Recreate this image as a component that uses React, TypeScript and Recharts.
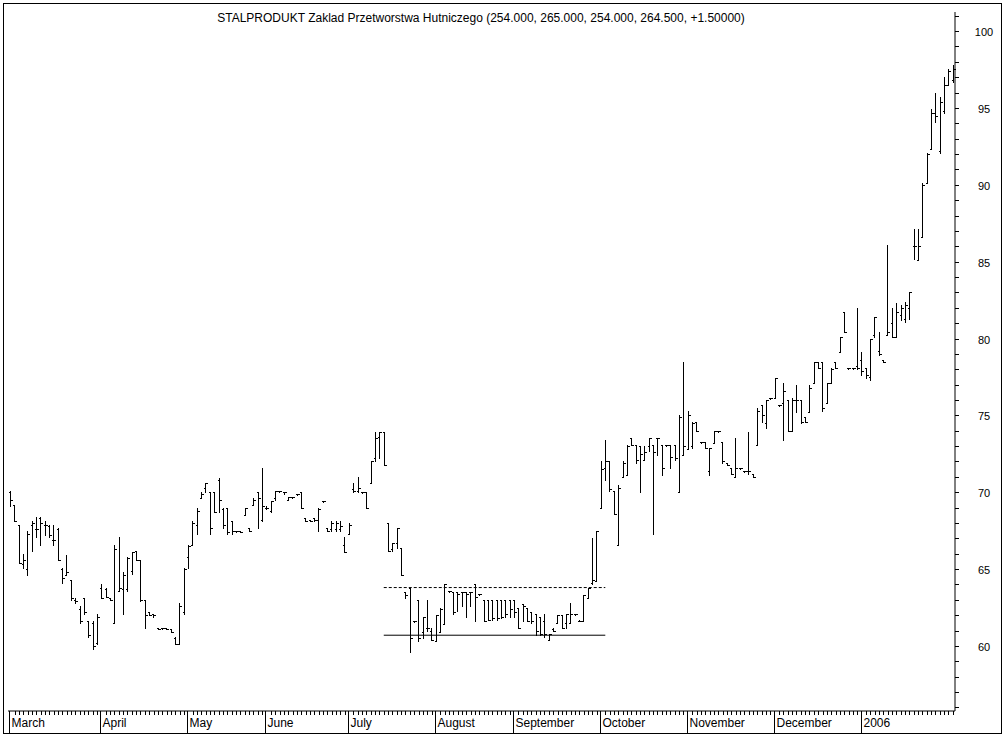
import React from "react";
import { ComposedChart, Bar, XAxis, YAxis, ReferenceLine } from "recharts";

// each bar: [open, high, low, close]
type OHLC = [number, number, number, number];

const mar05: OHLC[] = [
  [70.0, 70.1, 69.1, 69.5], [69.2, 69.2, 68.1, 68.1], [67.9, 67.9, 65.4, 65.4], [65.3, 66.0, 65.1, 65.6],
  [65.0, 67.5, 64.6, 67.3], [67.9, 68.1, 66.2, 68.0], [67.6, 68.4, 67.1, 67.6], [68.3, 68.4, 66.6, 68.0],
  [67.9, 68.1, 67.2, 67.9], [67.8, 67.9, 67.1, 67.2], [66.9, 67.9, 66.6, 66.9], [67.6, 67.7, 65.6, 65.6],
  [65.0, 65.1, 64.1, 64.4], [64.6, 65.9, 64.6, 64.8], [64.3, 64.3, 63.0, 63.1], [63.0, 63.1, 62.8, 62.9],
  [62.4, 62.6, 61.5, 61.6], [63.1, 63.1, 62.1, 62.2], [61.6, 61.6, 60.6, 60.7], [61.5, 61.6, 59.8, 60.0],
  [60.2, 62.1, 60.1, 61.9],
];
const apr05: OHLC[] = [
  [63.8, 64.0, 63.1, 63.1], [63.7, 63.8, 63.2, 63.2], [63.1, 63.1, 63.0, 63.0], [61.5, 66.6, 61.5, 66.3],
  [63.6, 67.1, 63.6, 63.8], [63.7, 64.8, 62.1, 64.6], [63.7, 65.8, 63.6, 65.7], [64.9, 66.1, 64.7, 66.1],
  [66.2, 66.2, 65.6, 65.6], [65.6, 65.6, 62.9, 63.0], [63.0, 63.0, 61.2, 62.0], [62.2, 62.2, 62.0, 62.0],
  [62.1, 62.1, 61.9, 62.0], [61.2, 61.2, 61.1, 61.1], [61.2, 61.2, 61.1, 61.2], [61.2, 61.2, 61.1, 61.1],
  [61.1, 61.1, 60.9, 60.9], [60.5, 60.6, 60.1, 60.1], [60.1, 62.8, 60.1, 62.6], [62.2, 65.1, 62.1, 65.0],
];
const may05: OHLC[] = [
  [65.8, 66.6, 65.1, 66.5], [66.6, 68.1, 66.6, 68.0], [67.9, 69.0, 67.3, 68.8], [69.6, 70.0, 69.6, 69.9],
  [70.3, 70.6, 70.0, 70.6], [70.0, 70.0, 67.3, 67.7], [70.0, 70.0, 68.7, 68.7], [70.8, 70.9, 68.7, 69.5],
  [68.9, 69.0, 67.7, 67.9], [69.0, 69.0, 67.3, 67.4], [68.1, 68.1, 67.3, 67.5], [67.5, 67.5, 67.5, 67.5],
  [67.5, 67.5, 67.4, 67.4], [68.5, 69.0, 68.5, 69.0], [67.7, 67.7, 67.5, 67.5], [69.2, 69.6, 69.2, 69.5],
  [70.0, 70.0, 67.7, 69.6], [68.2, 71.6, 68.1, 69.1],
];
const jun05: OHLC[] = [
  [69.0, 69.1, 68.9, 69.0], [68.8, 69.4, 68.7, 69.4], [69.6, 70.1, 69.5, 70.1], [70.1, 70.1, 70.1, 70.1],
  [70.0, 70.0, 69.9, 70.0], [69.5, 69.7, 69.5, 69.7], [69.7, 69.7, 69.6, 69.7], [69.9, 69.9, 69.8, 69.9],
  [70.0, 70.0, 69.0, 69.0], [68.3, 68.3, 68.1, 68.1], [68.2, 68.2, 68.1, 68.1], [68.3, 68.3, 68.1, 68.2],
  [68.2, 69.0, 67.5, 68.9], [69.4, 69.4, 69.4, 69.4], [67.7, 67.7, 67.5, 67.5], [67.6, 68.1, 67.5, 68.0],
  [67.6, 68.1, 67.5, 68.0], [67.6, 68.1, 67.5, 67.8], [66.6, 67.1, 66.1, 66.1],
];
const jul05: OHLC[] = [
  [67.3, 68.0, 67.3, 67.9], [70.2, 70.6, 70.0, 70.1], [70.1, 71.0, 70.0, 70.3], [70.0, 70.0, 70.0, 70.0],
  [70.0, 70.0, 69.0, 69.0], [70.6, 72.0, 70.6, 72.0], [72.2, 73.9, 72.0, 73.5], [73.6, 73.9, 72.2, 73.9],
  [73.9, 73.9, 71.8, 71.8], [68.0, 68.0, 66.2, 66.2], [66.3, 66.7, 66.2, 66.7], [66.7, 67.7, 66.4, 67.7],
  [66.4, 66.4, 64.6, 64.6], [63.5, 63.5, 63.1, 63.3], [63.8, 63.8, 59.6, 60.5], [61.6, 61.6, 61.6, 61.6],
  [63.0, 63.0, 60.3, 60.5], [60.9, 61.9, 60.5, 61.9], [61.2, 63.0, 61.0, 61.2], [61.0, 61.2, 60.4, 60.4],
];
const aug05: OHLC[] = [
  [60.3, 62.0, 60.3, 62.0], [60.9, 62.5, 60.9, 62.4], [61.4, 64.0, 61.4, 64.0], [63.6, 63.6, 63.6, 63.6],
  [63.5, 63.5, 62.1, 62.2], [63.5, 63.5, 62.3, 63.4], [63.5, 63.5, 62.6, 63.5], [63.5, 63.5, 61.9, 63.4],
  [63.5, 63.5, 62.6, 63.5], [64.0, 64.0, 61.6, 63.2], [63.4, 63.4, 63.4, 63.4], [63.0, 63.0, 61.6, 61.6],
  [63.0, 63.0, 61.7, 61.7], [63.0, 63.0, 61.7, 61.8], [63.0, 63.0, 61.7, 61.8], [63.0, 63.0, 61.8, 61.9],
  [63.0, 63.0, 61.9, 62.1], [63.0, 63.0, 61.9, 62.4],
];
const sep05: OHLC[] = [
  [63.0, 63.0, 61.9, 62.2], [62.5, 62.5, 61.2, 61.2], [62.7, 62.7, 61.6, 62.6], [62.5, 62.5, 61.6, 61.6],
  [62.2, 62.2, 61.5, 61.6], [62.1, 62.1, 60.7, 61.0], [61.9, 61.9, 60.7, 60.8], [61.6, 62.1, 60.6, 60.8],
  [60.4, 60.8, 60.4, 60.8], [61.1, 61.2, 61.0, 61.0], [61.5, 62.0, 61.5, 62.0], [62.0, 62.0, 61.2, 61.2],
  [61.5, 62.1, 61.2, 62.1], [61.5, 62.8, 61.5, 62.1], [62.1, 62.1, 62.1, 62.1], [61.6, 61.7, 61.6, 61.6],
  [61.6, 63.3, 61.6, 63.3], [63.1, 63.8, 63.1, 63.8], [64.1, 67.0, 64.0, 64.3], [64.2, 67.5, 64.2, 67.5],
];
const oct05: OHLC[] = [
  [69.0, 72.0, 69.0, 71.5], [71.6, 73.4, 70.8, 72.0], [72.0, 72.0, 70.1, 70.2], [70.1, 70.1, 68.6, 68.6],
  [66.6, 70.5, 66.6, 70.3], [71.0, 72.0, 71.0, 71.9], [71.1, 73.1, 71.1, 73.0], [73.5, 73.5, 73.1, 73.1],
  [73.1, 73.1, 71.9, 72.1], [73.0, 73.0, 70.0, 72.5], [72.1, 73.0, 72.1, 72.6], [73.0, 73.5, 72.7, 73.5],
  [73.1, 73.1, 67.3, 72.6], [73.5, 73.5, 72.4, 73.5], [73.1, 73.1, 71.1, 71.6], [73.1, 73.1, 73.1, 73.1],
  [73.1, 73.1, 71.6, 72.3], [73.1, 73.1, 72.1, 72.2], [70.0, 75.0, 70.0, 74.9], [72.4, 78.5, 72.4, 73.0],
];
const nov05: OHLC[] = [
  [72.8, 75.3, 72.8, 75.0], [73.0, 74.6, 72.9, 74.5], [74.6, 74.6, 74.0, 74.0], [73.3, 73.3, 73.3, 73.3],
  [73.3, 73.3, 72.9, 72.9], [71.4, 72.9, 71.1, 72.9], [73.2, 74.0, 73.2, 74.0], [74.0, 74.0, 74.0, 74.0],
  [73.3, 73.3, 71.9, 72.0], [71.9, 71.9, 71.8, 71.8], [71.6, 71.6, 71.2, 71.2], [71.0, 73.5, 71.0, 71.6],
  [71.6, 71.6, 71.6, 71.6], [71.4, 71.4, 71.4, 71.4], [71.4, 73.9, 71.2, 71.4], [71.2, 71.2, 71.0, 71.0],
  [73.1, 75.5, 73.1, 75.3], [75.7, 75.7, 74.6, 75.0], [74.5, 76.0, 74.2, 76.0], [76.1, 76.1, 76.1, 76.1],
];
const dec05: OHLC[] = [
  [76.1, 77.4, 76.1, 77.4], [75.7, 75.7, 75.7, 75.7], [75.8, 77.1, 73.4, 76.6], [76.0, 76.0, 74.0, 74.0],
  [74.0, 76.1, 74.0, 76.0], [76.0, 77.0, 75.2, 76.0], [76.0, 76.0, 74.5, 74.6], [74.9, 74.9, 74.6, 74.6],
  [75.2, 77.0, 75.2, 76.8], [77.1, 78.5, 77.1, 78.5], [78.5, 78.5, 78.1, 78.1], [78.5, 78.5, 75.3, 75.5],
  [75.8, 77.1, 75.8, 77.1], [77.1, 78.1, 77.1, 78.0], [78.5, 78.5, 78.1, 78.1], [79.1, 80.1, 79.1, 80.1],
  [81.7, 81.7, 80.4, 80.4], [78.1, 78.1, 78.1, 78.1], [78.1, 78.1, 78.1, 78.1], [78.2, 82.0, 78.0, 78.1],
];
const jan06: OHLC[] = [
  [78.6, 79.1, 77.6, 77.9], [78.1, 78.1, 77.4, 77.6], [77.5, 80.0, 77.3, 80.0], [80.2, 81.4, 80.1, 81.4],
  [79.2, 80.4, 78.9, 79.0], [78.6, 78.6, 78.5, 78.5], [80.2, 86.1, 80.2, 80.4], [81.0, 82.0, 80.1, 80.1],
  [80.1, 82.3, 80.1, 81.7], [81.5, 82.2, 81.2, 82.0], [81.3, 82.4, 81.1, 82.2], [82.0, 83.0, 81.3, 83.0],
  [86.0, 87.1, 85.2, 86.0], [85.1, 87.1, 85.1, 86.0], [86.6, 90.1, 86.6, 90.0], [90.1, 92.1, 90.1, 92.0],
  [92.3, 94.9, 92.3, 94.7], [94.7, 96.0, 94.1, 94.5], [92.2, 95.7, 92.1, 95.4], [94.8, 97.0, 94.7, 96.5],
  [96.5, 97.5, 96.5, 97.4], [96.8, 97.8, 96.7, 97.5],
];

const monthLabels = ["March", "April", "May", "June", "July", "August", "September", "October", "November", "December", "2006"];
const monthBars = [mar05, apr05, may05, jun05, jul05, aug05, sep05, oct05, nov05, dec05, jan06];

// support / resistance lines drawn over the summer base (bar index range)
const channelFrom = 86;
const channelTo = 137;
const supportLevel = 60.7;
const resistanceLevel = 63.8;

const title = "STALPRODUKT Zaklad Przetworstwa Hutniczego (254.000, 265.000, 254.000, 264.500, +1.50000)";
const yMin = 55.77;
const yMax = 101.24;

const FONT = "'Liberation Sans', Arial, sans-serif";

const data: any[] = [];
const monthStart = new Map<number, string>();
monthBars.forEach((bars, m) => {
  monthStart.set(data.length, monthLabels[m]);
  bars.forEach(([o, h, l, c]) => {
    data.push({ i: data.length, o, h, l, c, range: [l, h] });
  });
});

const priceTicks: number[] = [];
for (let v = 56; v <= 101; v++) priceTicks.push(v);

function OhlcBar(props: any) {
  const { x, y, width, height, payload } = props;
  if (x == null || y == null) return null;
  const cx = Math.round(x + width / 2) + 0.5;
  const h = Math.abs(height || 0);
  const top = height < 0 ? y + height : y;
  const span = payload.h - payload.l;
  const at = (v: number) => (span > 0 ? top + ((payload.h - v) / span) * h : top);
  const yo = Math.round(at(payload.o)) + 0.5;
  const yc = Math.round(at(payload.c)) + 0.5;
  return (
    <g stroke="#000" strokeWidth={1} shapeRendering="crispEdges">
      <line x1={cx} x2={cx} y1={Math.round(top)} y2={Math.round(top + Math.max(h, 1)) + 1} />
      <line x1={cx - 2} x2={cx} y1={yo} y2={yo} />
      <line x1={cx} x2={cx + 2} y1={yc} y2={yc} />
    </g>
  );
}

function DayTick(props: any) {
  const { x, y, payload } = props;
  const label = monthStart.get(payload.value);
  const tx = Math.round(x) + 0.5;
  if (label) {
    return (
      <g>
        <line x1={tx - 1} x2={tx - 1} y1={y} y2={y + 22} stroke="#000" shapeRendering="crispEdges" />
        <text x={tx + 1} y={y + 16} fontSize={12} fontFamily={FONT} fill="#000">
          {label}
        </text>
      </g>
    );
  }
  return <line x1={tx} x2={tx} y1={y} y2={y + 4} stroke="#000" shapeRendering="crispEdges" />;
}

function PriceTick(props: any) {
  const { x, y, payload } = props;
  const ty = Math.round(y) + 0.5;
  return (
    <g>
      <line x1={x} x2={x + 4} y1={ty} y2={ty} stroke="#000" shapeRendering="crispEdges" />
      {payload.value % 5 === 0 && (
        <text x={x + 29} y={ty + 4} textAnchor="middle" fontSize={11} fontFamily={FONT} fill="#000">
          {payload.value}
        </text>
      )}
    </g>
  );
}

export default function App() {
  return (
    <div style={{ position: "relative", width: 1006, height: 737, background: "#fff" }}>
      <style>{"body{margin:0;background:#fff}"}</style>
      <div
        style={{
          position: "absolute",
          left: 3,
          top: 3,
          width: 999,
          height: 731,
          border: "1px solid #000",
          boxSizing: "border-box",
        }}
      />
      <div
        style={{
          position: "absolute",
          left: 0,
          top: 11,
          width: 962,
          textAlign: "center",
          fontFamily: FONT,
          fontSize: 12,
          color: "#000",
        }}
      >
        {title}
      </div>
      <ComposedChart
        width={1006}
        height={737}
        data={data}
        margin={{ top: 12, right: 0, left: 8, bottom: 0 }}
        barCategoryGap={0}
      >
        <XAxis
          dataKey="i"
          type="category"
          interval={0}
          height={26}
          tickSize={0}
          tickMargin={0}
          tickLine={false}
          axisLine={{ stroke: "#000" }}
          tick={<DayTick />}
        />
        <YAxis
          yAxisId="p"
          orientation="right"
          width={51}
          domain={[yMin, yMax]}
          ticks={priceTicks}
          interval={0}
          allowDataOverflow
          tickSize={0}
          tickMargin={0}
          tickLine={false}
          axisLine={{ stroke: "#000" }}
          tick={<PriceTick />}
        />
        <YAxis yAxisId="frame" orientation="left" width={0} tick={false} axisLine={{ stroke: "#000" }} />
        <Bar yAxisId="p" dataKey="range" shape={<OhlcBar />} isAnimationActive={false} />
        <ReferenceLine
          yAxisId="p"
          segment={[{ x: channelFrom, y: supportLevel }, { x: channelTo, y: supportLevel }]}
          stroke="#000"
          ifOverflow="visible"
        />
        <ReferenceLine
          yAxisId="p"
          segment={[{ x: channelFrom, y: resistanceLevel }, { x: channelTo, y: resistanceLevel }]}
          stroke="#000"
          strokeDasharray="3 2"
          ifOverflow="visible"
        />
      </ComposedChart>
    </div>
  );
}
